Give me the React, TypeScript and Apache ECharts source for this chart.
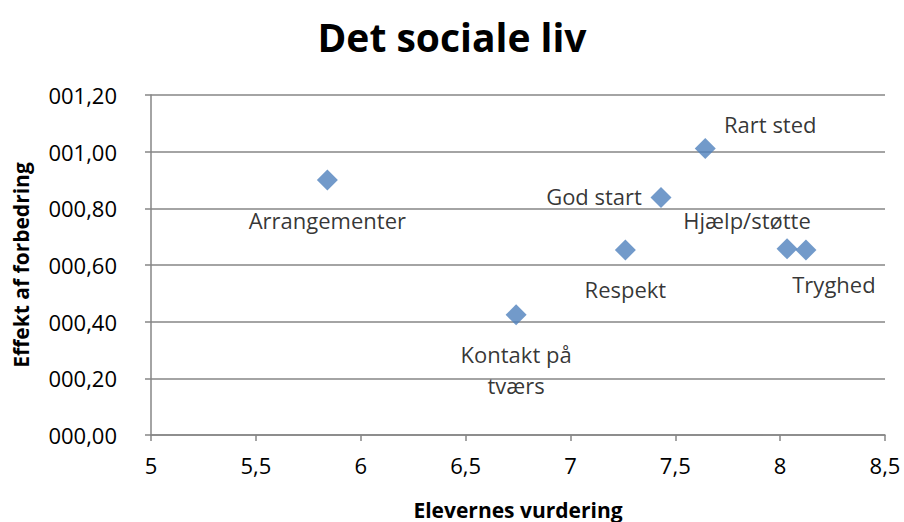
import React, { useEffect, useRef } from "react";
import * as echarts from "echarts";

const names = ["Arrangementer", "Kontakt på\ntværs", "Respekt", "God start", "Rart sted", "Hjælp/støtte", "Tryghed"];
const xValues = [5.841, 6.741, 7.262, 7.432, 7.643, 8.033, 8.123];
const yValues = [0.9, 0.424, 0.653, 0.838, 1.011, 0.657, 0.653];
const labelOffsets: [number, number][] = [
  [0, 40],
  [0, 55],
  [0, 39],
  [-67, -2],
  [65, -25],
  [-40, -29],
  [28, 34],
];

const FONT = "'Open Sans', 'Noto Sans', sans-serif";

function fmtY(v: number) {
  const s = v.toFixed(2).replace(".", ",");
  const [i, d] = s.split(",");
  return i.padStart(3, "0") + "," + d;
}

export default function App() {
  const ref = useRef<HTMLDivElement>(null);
  useEffect(() => {
    if (!ref.current) return;
    const chart = echarts.init(ref.current, undefined, { renderer: "svg" });
    chart.setOption({
      animation: false,
      backgroundColor: "#ffffff",
      title: {
        text: "Det sociale liv",
        left: "center",
        top: 12,
        textStyle: { fontFamily: FONT, fontSize: 39, fontWeight: "bold", color: "#000" },
      },
      grid: { left: 151, right: 19, top: 95, bottom: 87, containLabel: false, outerBoundsMode: "none" },
      xAxis: {
        type: "value",
        min: 5,
        max: 8.5,
        interval: 0.5,
        name: "Elevernes vurdering",
        nameLocation: "middle",
        nameGap: 64,
        nameTextStyle: { fontFamily: FONT, fontSize: 21, fontWeight: "bold", color: "#000" },
        axisLine: { show: true, lineStyle: { color: "#868686", width: 1.5 } },
        axisTick: { show: true, length: 6, lineStyle: { color: "#868686", width: 1.5 } },
        splitLine: { show: false },
        axisLabel: {
          margin: 19,
          fontFamily: FONT,
          fontSize: 22,
          color: "#000",
          formatter: (v: number) => String(v).replace(".", ","),
        },
      },
      yAxis: {
        type: "value",
        min: 0,
        max: 1.2,
        interval: 0.2,
        name: "Effekt af forbedring",
        nameLocation: "middle",
        nameGap: 120,
        nameRotate: 90,
        nameTextStyle: { fontFamily: FONT, fontSize: 21, fontWeight: "bold", color: "#000" },
        axisLine: { show: true, lineStyle: { color: "#868686", width: 1.5 } },
        axisTick: { show: true, length: 6, lineStyle: { color: "#868686", width: 1.5 } },
        splitLine: { show: true, lineStyle: { color: "#868686", width: 1.5 } },
        axisLabel: {
          margin: 34,
          fontFamily: FONT,
          fontSize: 22,
          color: "#000",
          formatter: (v: number) => fmtY(v),
        },
      },
      series: [
        {
          type: "scatter",
          symbol: "diamond",
          symbolSize: 21,
          itemStyle: { color: "#4F81BD" },
          data: names.map((n, i) => ({
            value: [xValues[i], yValues[i]],
            name: n,
            label: {
              show: true,
              position: "inside",
              offset: labelOffsets[i],
              formatter: n,
              fontFamily: FONT,
              fontSize: 22,
              color: "#000",
              lineHeight: 31,
              align: "center",
              verticalAlign: "middle",
            },
          })),
        },
      ],
    });
    return () => chart.dispose();
  }, []);
  return <div ref={ref} style={{ width: 904, height: 522, position: "absolute", left: 0, top: 0 }} />;
}
